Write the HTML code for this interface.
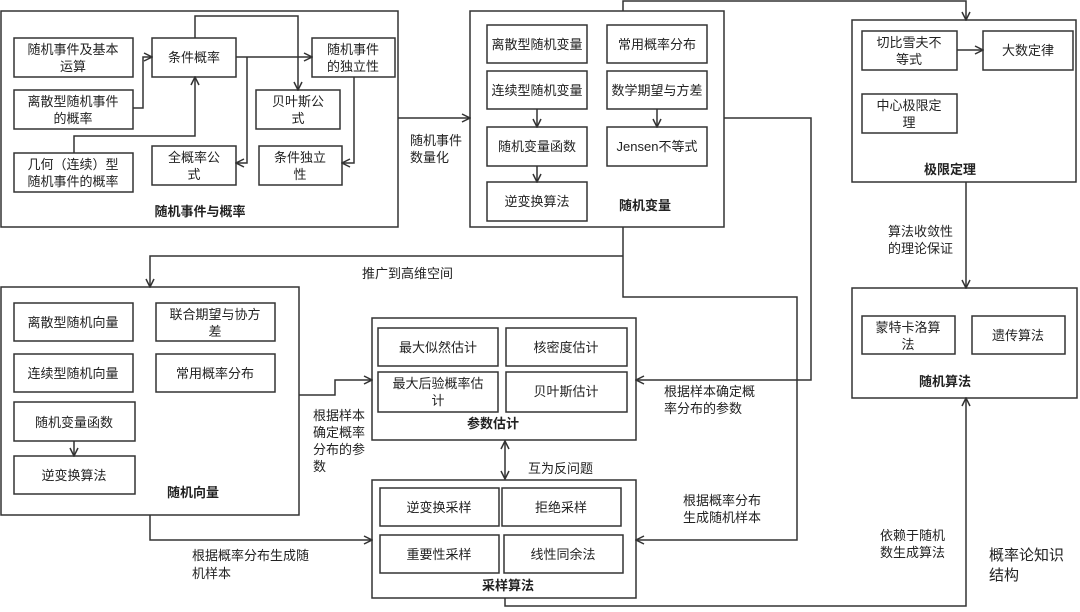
<!DOCTYPE html>
<html><head><meta charset="utf-8"><style>
body{margin:0;background:#fff}
svg{display:block}
text{font-family:"Liberation Sans","Noto Sans CJK SC",sans-serif;font-size:13px;fill:#222}
.b{font-weight:bold}
rect{fill:none;stroke:#333;stroke-width:1.5}
path,line{fill:none;stroke:#333;stroke-width:1.5}
.ah{fill:none;stroke:#333;stroke-width:1.5}
</style></head><body>
<svg width="1080" height="612" viewBox="0 0 1080 612">
<defs><marker id="a" markerWidth="10" markerHeight="10" refX="9" refY="5" orient="auto" markerUnits="userSpaceOnUse"><path d="M1,1 L9,5 L1,9" class="ah"/></marker>
<marker id="s" markerWidth="10" markerHeight="10" refX="1" refY="5" orient="auto" markerUnits="userSpaceOnUse"><path d="M9,1 L1,5 L9,9" class="ah"/></marker></defs>

<!-- Box 1 -->
<rect x="1" y="11" width="397" height="216"/>
<rect x="14" y="38" width="119" height="39"/><text x="73" y="54" text-anchor="middle">随机事件及基本</text><text x="73" y="71" text-anchor="middle">运算</text>
<rect x="14" y="90" width="119" height="39"/><text x="73" y="106" text-anchor="middle">离散型随机事件</text><text x="73" y="123" text-anchor="middle">的概率</text>
<rect x="14" y="153" width="119" height="39"/><text x="73" y="169" text-anchor="middle">几何（连续）型</text><text x="73" y="186" text-anchor="middle">随机事件的概率</text>
<rect x="152" y="38" width="84" height="39"/><text x="194" y="62" text-anchor="middle">条件概率</text>
<rect x="312" y="38" width="83" height="39"/><text x="353" y="54" text-anchor="middle">随机事件</text><text x="353" y="71" text-anchor="middle">的独立性</text>
<rect x="256" y="90" width="84" height="39"/><text x="298" y="106" text-anchor="middle">贝叶斯公</text><text x="298" y="123" text-anchor="middle">式</text>
<rect x="152" y="146" width="84" height="39"/><text x="194" y="162" text-anchor="middle">全概率公</text><text x="194" y="179" text-anchor="middle">式</text>
<rect x="259" y="146" width="83" height="39"/><text x="300" y="162" text-anchor="middle">条件独立</text><text x="300" y="179" text-anchor="middle">性</text>
<text x="200" y="216" text-anchor="middle" class="b">随机事件与概率</text>
<path d="M133,108 H143 V57 H152" marker-end="url(#a)"/>
<path d="M74,153 V136 H195 V77" marker-end="url(#a)"/>
<path d="M195,38 V16 H298 V90" marker-end="url(#a)"/>
<path d="M236,57 H312" marker-end="url(#a)"/>
<path d="M247,57 V163 H236" marker-end="url(#a)"/>
<path d="M354,77 V163 H342" marker-end="url(#a)"/>
<path d="M398,118 H470" marker-end="url(#a)"/>
<text x="410" y="145">随机事件</text><text x="410" y="162">数量化</text>

<!-- Box 2 -->
<rect x="470" y="11" width="254" height="216"/>
<rect x="487" y="25" width="100" height="38"/><text x="537" y="49" text-anchor="middle">离散型随机变量</text>
<rect x="607" y="25" width="100" height="38"/><text x="657" y="49" text-anchor="middle">常用概率分布</text>
<rect x="487" y="71" width="100" height="38"/><text x="537" y="95" text-anchor="middle">连续型随机变量</text>
<rect x="607" y="71" width="100" height="38"/><text x="657" y="95" text-anchor="middle">数学期望与方差</text>
<rect x="487" y="127" width="100" height="39"/><text x="537" y="151" text-anchor="middle">随机变量函数</text>
<rect x="607" y="127" width="100" height="39"/><text x="657" y="151" text-anchor="middle">Jensen不等式</text>
<rect x="487" y="182" width="100" height="39"/><text x="537" y="206" text-anchor="middle">逆变换算法</text>
<text x="645" y="210" class="b" text-anchor="middle">随机变量</text>
<path d="M537,109 V127" marker-end="url(#a)"/>
<path d="M657,109 V127" marker-end="url(#a)"/>
<path d="M537,166 V182" marker-end="url(#a)"/>
<path d="M623,11 V1 H966 V20" marker-end="url(#a)"/>

<!-- Box 极限定理 -->
<rect x="852" y="20" width="224" height="162"/>
<rect x="862" y="31" width="95" height="39"/><text x="909" y="47" text-anchor="middle">切比雪夫不</text><text x="909" y="64" text-anchor="middle">等式</text>
<rect x="983" y="31" width="90" height="39"/><text x="1028" y="55" text-anchor="middle">大数定律</text>
<rect x="862" y="94" width="95" height="39"/><text x="909" y="110" text-anchor="middle">中心极限定</text><text x="909" y="127" text-anchor="middle">理</text>
<path d="M957,50 H983" marker-end="url(#a)"/>
<text x="950" y="174" text-anchor="middle" class="b">极限定理</text>
<path d="M966,182 V288" marker-end="url(#a)"/>
<text x="888" y="236">算法收敛性</text><text x="888" y="253">的理论保证</text>

<!-- 随机算法 -->
<rect x="852" y="288" width="225" height="110"/>
<rect x="862" y="316" width="93" height="38"/><text x="908" y="332" text-anchor="middle">蒙特卡洛算</text><text x="908" y="349" text-anchor="middle">法</text>
<rect x="972" y="316" width="93" height="38"/><text x="1018" y="340" text-anchor="middle">遗传算法</text>
<text x="945" y="386" text-anchor="middle" class="b">随机算法</text>
<path d="M505,598 V606 H966 V398" marker-end="url(#a)"/>
<text x="880" y="540">依赖于随机</text><text x="880" y="557">数生成算法</text>
<text x="989" y="560" style="font-size:15px">概率论知识</text><text x="989" y="580" style="font-size:15px">结构</text>

<!-- connectors from box2 -->
<path d="M724,118 H811 V380 H636" marker-end="url(#a)"/>
<text x="664" y="396">根据样本确定概</text><text x="664" y="413">率分布的参数</text>
<path d="M623,227 V297 H797 V540 H636" marker-end="url(#a)"/>
<text x="683" y="505">根据概率分布</text><text x="683" y="522">生成随机样本</text>
<path d="M623,256 H150 V287" marker-end="url(#a)"/>
<text x="362" y="278">推广到高维空间</text>

<!-- 随机向量 -->
<rect x="1" y="287" width="298" height="228"/>
<rect x="14" y="303" width="119" height="38"/><text x="73" y="327" text-anchor="middle">离散型随机向量</text>
<rect x="156" y="303" width="119" height="38"/><text x="215" y="319" text-anchor="middle">联合期望与协方</text><text x="215" y="336" text-anchor="middle">差</text>
<rect x="14" y="354" width="119" height="38"/><text x="73" y="378" text-anchor="middle">连续型随机向量</text>
<rect x="156" y="354" width="119" height="38"/><text x="215" y="378" text-anchor="middle">常用概率分布</text>
<rect x="14" y="402" width="121" height="39"/><text x="74" y="427" text-anchor="middle">随机变量函数</text>
<rect x="14" y="456" width="121" height="38"/><text x="74" y="480" text-anchor="middle">逆变换算法</text>
<path d="M74,441 V456" marker-end="url(#a)"/>
<text x="193" y="497" text-anchor="middle" class="b">随机向量</text>
<path d="M299,395 H335 V380 H372" marker-end="url(#a)"/>
<text x="313" y="420">根据样本</text><text x="313" y="437">确定概率</text><text x="313" y="454">分布的参</text><text x="313" y="471">数</text>
<path d="M150,515 V540 H372" marker-end="url(#a)"/>
<text x="192" y="560">根据概率分布生成随</text><text x="192" y="578">机样本</text>

<!-- 参数估计 -->
<rect x="372" y="318" width="264" height="122"/>
<rect x="378" y="328" width="120" height="38"/><text x="438" y="352" text-anchor="middle">最大似然估计</text>
<rect x="506" y="328" width="121" height="38"/><text x="566" y="352" text-anchor="middle">核密度估计</text>
<rect x="378" y="372" width="120" height="40"/><text x="438" y="388" text-anchor="middle">最大后验概率估</text><text x="438" y="405" text-anchor="middle">计</text>
<rect x="506" y="372" width="121" height="40"/><text x="566" y="396" text-anchor="middle">贝叶斯估计</text>
<text x="493" y="428" text-anchor="middle" class="b">参数估计</text>
<path d="M505,441 V479" marker-start="url(#s)" marker-end="url(#a)"/>
<text x="528" y="473">互为反问题</text>

<!-- 采样算法 -->
<rect x="372" y="480" width="264" height="118"/>
<rect x="380" y="488" width="119" height="38"/><text x="439" y="512" text-anchor="middle">逆变换采样</text>
<rect x="502" y="488" width="119" height="38"/><text x="561" y="512" text-anchor="middle">拒绝采样</text>
<rect x="380" y="535" width="119" height="38"/><text x="439" y="559" text-anchor="middle">重要性采样</text>
<rect x="504" y="535" width="119" height="38"/><text x="563" y="559" text-anchor="middle">线性同余法</text>
<text x="508" y="590" text-anchor="middle" class="b">采样算法</text>
</svg>
</body></html>
